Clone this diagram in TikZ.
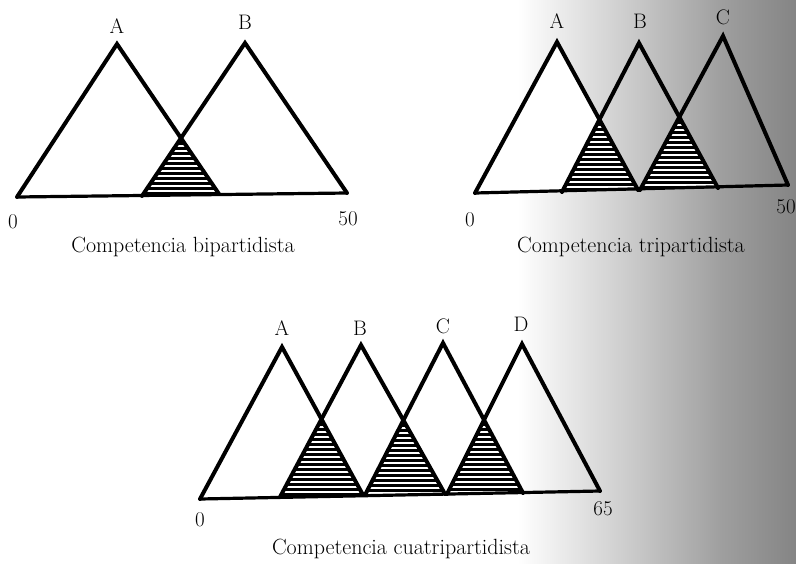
\documentclass[tikz,border=0pt]{standalone}
\usetikzlibrary{calc}
\pgfdeclarehorizontalshading{scanshade}{100bp}{color(0bp)=(white); color(25bp)=(white); color(37bp)=(white); color(52bp)=(black!20); color(65bp)=(black!38); color(75bp)=(black!48); color(100bp)=(black!48)}
\tikzset{
  side/.style={line width=4pt, line join=miter, line cap=round},
  baseln/.style={line width=3.2pt, line cap=round},
  hatchline/.style={line width=3pt, black},
  lbl/.style={font=\fontsize{21}{24}\selectfont, inner sep=0pt},
  captxt/.style={font=\fontsize{22}{25}\selectfont, inner sep=0pt}
}
\newcommand{\hatchtri}[3]{% left base, apex, right base
  \begin{scope}
    \clip (#1) -- (#2) -- (#3) -- cycle;
    \fill[white] (#1) -- (#2) -- (#3) -- cycle;
    \begin{scope}[shift={(#2)}]
      \foreach \k in {0,...,16} \draw[hatchline] (-70,\k*5) -- (70,\k*5);
    \end{scope}
  \end{scope}}
\begin{document}
\begin{tikzpicture}[x=1pt,y=-1pt]
\useasboundingbox (0,0) rectangle (796,563);
\shade[shading=scanshade] (430,0) rectangle (796,563);

%%% Diagram 1: bipartidista
\coordinate (p1AL) at (17,197);
\coordinate (p1AT) at (117,44);
\coordinate (p1AR) at (219,194);
\coordinate (p1BL) at (142,196);
\coordinate (p1BT) at (245,43);
\coordinate (p1BR) at (347,193);
\coordinate (p1X) at (intersection of p1AT--p1AR and p1BL--p1BT);
\hatchtri{p1BL}{p1X}{p1AR}
\draw[side] (p1AL) -- (p1AT) -- (p1AR);
\draw[side] (p1BL) -- (p1BT) -- (p1BR);
\draw[baseln] (p1AL) -- (p1BR);
\node[lbl] (p1a) at (117,26) {A};
\node[lbl] (p1b) at (245,22) {B};
\node[lbl] (p1zero) at (13,222) {0};
\node[lbl] (p1max) at (348,219) {50};
\node[captxt] (p1cap) at (183,247) {Competencia bipartidista};

%%% Diagram 2: tripartidista
\coordinate (p2AL) at (475,193);
\coordinate (p2AT) at (557,42);
\coordinate (p2AR) at (638,190);
\coordinate (p2BL) at (562,192);
\coordinate (p2BT) at (639,43);
\coordinate (p2BR) at (718,188);
\coordinate (p2CL) at (640,190);
\coordinate (p2CT) at (723,36);
\coordinate (p2CR) at (788,185);
\fill[white] (p2AL) -- (p2AT) -- (p2AR) -- cycle;
\coordinate (p2X) at (intersection of p2AT--p2AR and p2BL--p2BT);
\coordinate (p2Y) at (intersection of p2BT--p2BR and p2CL--p2CT);
\hatchtri{p2BL}{p2X}{p2AR}
\hatchtri{p2CL}{p2Y}{p2BR}
\draw[side] (p2AL) -- (p2AT) -- (p2AR);
\draw[side] (p2BL) -- (p2BT) -- (p2BR);
\draw[side] (p2CL) -- (p2CT) -- (p2CR);
\draw[baseln] (p2AL) -- (p2CR);
\node[lbl] (p2a) at (557,21) {A};
\node[lbl] (p2b) at (640,21) {B};
\node[lbl] (p2c) at (723,17) {C};
\node[lbl] (p2zero) at (470,220) {0};
\node[lbl] (p2max) at (786,207) {50};
\node[captxt] (p2cap) at (631,247) {Competencia tripartidista};

%%% Diagram 3: cuatripartidista
\coordinate (p3AL) at (200,499);
\coordinate (p3AT) at (282,347);
\coordinate (p3AR) at (363,495);
\coordinate (p3BL) at (280,497);
\coordinate (p3BT) at (361,345);
\coordinate (p3BR) at (445,494);
\coordinate (p3CL) at (365,495);
\coordinate (p3CT) at (443,343);
\coordinate (p3CR) at (523,493);
\coordinate (p3DL) at (447,494);
\coordinate (p3DT) at (522,344);
\coordinate (p3DR) at (600,491);
\coordinate (p3X) at (intersection of p3AT--p3AR and p3BL--p3BT);
\coordinate (p3Y) at (intersection of p3BT--p3BR and p3CL--p3CT);
\coordinate (p3Z) at (intersection of p3CT--p3CR and p3DL--p3DT);
\hatchtri{p3BL}{p3X}{p3AR}
\hatchtri{p3CL}{p3Y}{p3BR}
\hatchtri{p3DL}{p3Z}{p3CR}
\draw[side] (p3AL) -- (p3AT) -- (p3AR);
\draw[side] (p3BL) -- (p3BT) -- (p3BR);
\draw[side] (p3CL) -- (p3CT) -- (p3CR);
\draw[side] (p3DL) -- (p3DT) -- (p3DR);
\draw[baseln] (p3AL) -- (p3DR);
\node[lbl] (p3a) at (282,328) {A};
\node[lbl] (p3b) at (360,328) {B};
\node[lbl] (p3c) at (443,326) {C};
\node[lbl] (p3d) at (521,324) {D};
\node[lbl] (p3zero) at (200,520) {0};
\node[lbl] (p3max) at (603,509) {65};
\node[captxt] (p3cap) at (401,549) {Competencia cuatripartidista};
\end{tikzpicture}
\end{document}
